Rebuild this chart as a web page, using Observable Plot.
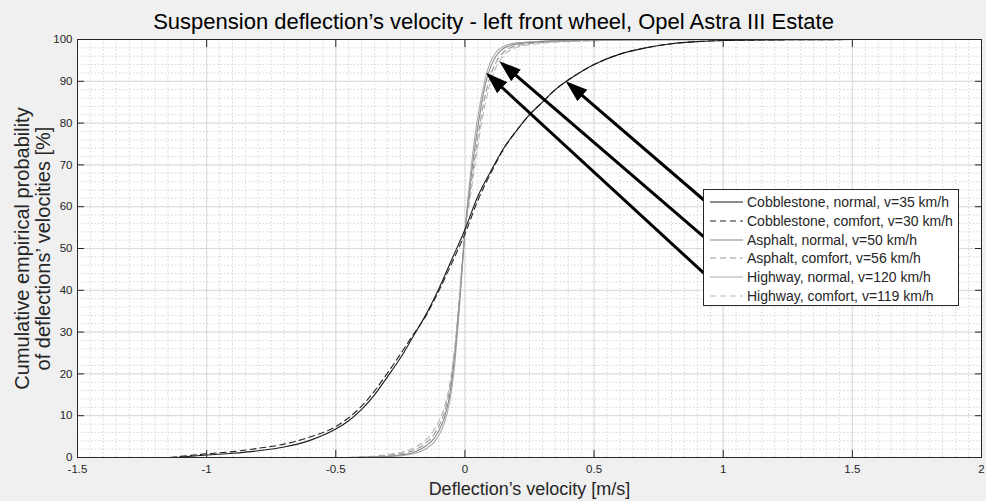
<!DOCTYPE html>
<html>
<head>
<meta charset="utf-8">
<script src="https://cdn.jsdelivr.net/npm/d3@7"></script>
<script src="https://cdn.jsdelivr.net/npm/@observablehq/plot@0.6"></script>
<style>
  html, body { margin: 0; padding: 0; background: #f0f0f0; }
  #wrap { position: relative; width: 986px; height: 501px; font-family: "Liberation Sans", Arial, sans-serif; }
  #legend { position: absolute; left: 703px; top: 189px; width: 256px; height: 117px; box-sizing: border-box;
            border: 1px solid #262626; background: #fff; padding-top: 3px; }
  .row { height: 18.7px; display: flex; align-items: center; font-size: 14px; color: #262626; white-space: nowrap; }
  .row svg { margin-left: 6px; margin-right: 4px; }
</style>
</head>
<body>
<div id="wrap"></div>
<script>
// ---- data ----
const titleText = "Suspension deflection’s velocity - left front wheel, Opel Astra III Estate";
const xLabelText = "Deflection’s velocity [m/s]";
const yLabelText = "Cumulative empirical probability\nof deflections’ velocities [%]";

const xTicks = [-1.5, -1, -0.5, 0, 0.5, 1, 1.5, 2];
const yTicks = [0, 10, 20, 30, 40, 50, 60, 70, 80, 90, 100];

const seriesNames = [
  "Cobblestone, normal, v=35 km/h",
  "Cobblestone, comfort, v=30 km/h",
  "Asphalt, normal, v=50 km/h",
  "Asphalt, comfort, v=56 km/h",
  "Highway, normal, v=120 km/h",
  "Highway, comfort, v=119 km/h"
];
const seriesColors = ["#1a1a1a", "#262626", "#8a8a8a", "#9a9a9a", "#ababab", "#b8b8b8"];
const seriesDashes = [null, "6,4", null, "6,4", null, "6,4"];

const cobNormalX  = [-1.12,-1.0,-0.9,-0.8,-0.7,-0.6,-0.5,-0.45,-0.4,-0.35,-0.3,-0.25,-0.2,-0.15,-0.1,-0.05,0,0.05,0.1,0.15,0.2,0.25,0.3,0.35,0.4,0.45,0.5,0.6,0.7,0.8,0.9,1.0,1.2,1.4,1.62];
const cobNormalY  = [0,0.6,1.0,1.6,2.5,4.1,6.8,8.8,11.5,15.0,19.3,23.8,29.0,34.3,40.5,47.5,54.5,62.5,68.5,74,78.2,82,85,88,90.3,92.3,94,96.5,98,99,99.5,99.75,99.9,99.97,100];
const cobComfortX = [-1.14,-1.0,-0.9,-0.8,-0.7,-0.6,-0.5,-0.45,-0.4,-0.35,-0.3,-0.25,-0.2,-0.15,-0.1,-0.05,0,0.05,0.1,0.15,0.2,0.25,0.3,0.35,0.4,0.45,0.5,0.6,0.7,0.8,0.9,1.0,1.2,1.4,1.6];
const cobComfortY = [0,0.9,1.4,2.2,3.2,4.9,7.4,9.5,12.3,15.9,20.2,24.7,29.4,34,40,46.6,53.5,61.5,68,73.8,78.2,82,85,88,90.3,92.3,94,96.5,98,99,99.5,99.75,99.9,99.97,100];

const grayX        = [-0.45,-0.3,-0.25,-0.2,-0.15,-0.12,-0.1,-0.08,-0.06,-0.04,-0.02,0,0.02,0.04,0.06,0.08,0.1,0.12,0.15,0.2,0.3,0.45,0.7,1.0];
const asphNormalY  = [0,0.3,0.6,1.2,2.8,4.5,6.5,9.5,14.5,24,38,54,65,75,83,89.5,93.5,96,97.9,98.9,99.5,99.8,99.95,100];
const asphComfortY = [0,0.5,0.9,1.7,3.5,5.5,7.6,10.8,16,25,39,54,63.5,72.5,80.5,87,91.5,94.5,97,98.5,99.3,99.7,99.9,100];
const hwyNormalY   = [0,0.2,0.4,0.9,2.1,3.6,5.4,8.2,13,22,37,54,67,77.5,85,91,94.8,96.9,98.4,99.2,99.6,99.85,99.97,100];
const hwyComfortY  = [0,0.7,1.2,2.2,4.3,6.5,8.8,12,17.2,26,39.5,54,62,70.5,78.5,85,90,93.3,96.2,98.1,99.1,99.6,99.9,100];

// annotation arrows (tail at legend, head on curves), data units
const arrowX1 = [0.925, 0.925, 0.925];
const arrowY1 = [61.6, 52.8, 44.1];
const arrowX2 = [0.402, 0.145, 0.093];
const arrowY2 = [89.4, 94.2, 91.4];

// ---- build tables ----
const seriesXY = [
  [cobNormalX, cobNormalY],
  [cobComfortX, cobComfortY],
  [grayX, asphNormalY],
  [grayX, asphComfortY],
  [grayX, hwyNormalY],
  [grayX, hwyComfortY]
];
const arrows = arrowX1.map((d, i) => ({x1: d, y1: arrowY1[i], x2: arrowX2[i], y2: arrowY2[i]}));

const xMinor = d3.range(-30, 41).map(i => i * 0.05);
const yMinor = d3.range(0, 101, 2);
const font = "'Liberation Sans', Arial, sans-serif";

// draw order: lighter first, black on top
const order = [4, 5, 2, 3, 1, 0];
const lineMarks = order.map(k => {
  const [xs, ys] = seriesXY[k];
  const data = xs.map((x, i) => ({x, y: ys[i]}));
  return Plot.line(data, {x: "x", y: "y", stroke: seriesColors[k], strokeWidth: 1.1,
    strokeDasharray: seriesDashes[k] || undefined, curve: "monotone-x"});
});

const chart = Plot.plot({
  width: 986, height: 501,
  marginLeft: 77, marginRight: 5, marginTop: 39, marginBottom: 44,
  style: {background: "#f0f0f0", fontFamily: font, overflow: "visible"},
  x: {domain: [-1.5, 2]},
  y: {domain: [0, 100]},
  marks: [
    Plot.frame({fill: "#ffffff", stroke: "none"}),
    Plot.gridX(xMinor, {stroke: "#d6d6d6", strokeOpacity: 1, strokeDasharray: "1.5,2"}),
    Plot.gridY(yMinor, {stroke: "#d6d6d6", strokeOpacity: 1, strokeDasharray: "1.5,2"}),
    Plot.gridX(xTicks, {stroke: "#dadada", strokeOpacity: 1}),
    Plot.gridY(yTicks, {stroke: "#dadada", strokeOpacity: 1}),
    ...lineMarks,
    Plot.link(arrows, {x1: "x1", y1: "y1", x2: "x2", y2: "y2", stroke: "#000", strokeWidth: 3, markerEnd: "arrow"}),
    Plot.frame({stroke: "#262626", strokeWidth: 1}),
    // inward ticks on all four sides
    Plot.axisX(xTicks, {anchor: "bottom", tickSize: -7, tickFormat: () => "", label: null, stroke: "#262626"}),
    Plot.axisX(xTicks, {anchor: "top", tickSize: -7, tickFormat: () => "", label: null, stroke: "#262626"}),
    Plot.axisY(yTicks, {anchor: "left", tickSize: -7, tickFormat: () => "", label: null, stroke: "#262626"}),
    Plot.axisY(yTicks, {anchor: "right", tickSize: -7, tickFormat: () => "", label: null, stroke: "#262626"}),
    // tick labels
    Plot.axisX(xTicks, {anchor: "bottom", tickSize: 0, tickPadding: 7, tickFormat: d => String(d), label: null, fontSize: 11.5, fill: "#262626"}),
    Plot.axisY(yTicks, {anchor: "left", tickSize: 0, tickPadding: 5, tickFormat: d => String(d), label: null, fontSize: 11.5, fill: "#262626"}),
    // title and axis labels
    Plot.text([titleText], {text: d => d, frameAnchor: "top", lineAnchor: "middle", textAnchor: "middle", dy: -18, dx: -36, fontSize: 22, fill: "#000"}),
    Plot.text([xLabelText], {text: d => d, frameAnchor: "bottom", lineAnchor: "middle", textAnchor: "middle", dy: 32, fontSize: 18, fill: "#262626"}),
    Plot.text([yLabelText], {text: d => d, frameAnchor: "left", lineAnchor: "middle", textAnchor: "middle", dx: -45, rotate: -90, fontSize: 20, lineHeight: 1.05, fill: "#262626"})
  ]
});

// filled arrowheads
chart.querySelectorAll("marker").forEach(m => {
  m.setAttribute("viewBox", "-18 -8 22 16");
  m.setAttribute("markerUnits", "userSpaceOnUse");
  m.setAttribute("markerWidth", "22");
  m.setAttribute("markerHeight", "16");
  m.setAttribute("refX", "0");
  m.setAttribute("refY", "0");
  m.setAttribute("fill", "#000");
  m.setAttribute("stroke", "none");
  while (m.firstChild) m.removeChild(m.firstChild);
  const p = document.createElementNS("http://www.w3.org/2000/svg", "path");
  p.setAttribute("d", "M4,0L-18,-7.5L-18,7.5Z");
  m.appendChild(p);
});

const wrap = document.getElementById("wrap");
wrap.appendChild(chart);

// legend
const legend = document.createElement("div");
legend.id = "legend";
seriesNames.forEach((name, k) => {
  const row = document.createElement("div");
  row.className = "row";
  const dash = seriesDashes[k] ? `stroke-dasharray="6,4"` : "";
  row.innerHTML = `<svg width="33" height="4"><line x1="0" y1="2" x2="33" y2="2" stroke="${seriesColors[k]}" stroke-width="1.1" ${dash}/></svg><span>${name}</span>`;
  legend.appendChild(row);
});
wrap.appendChild(legend);
</script>
</body>
</html>
